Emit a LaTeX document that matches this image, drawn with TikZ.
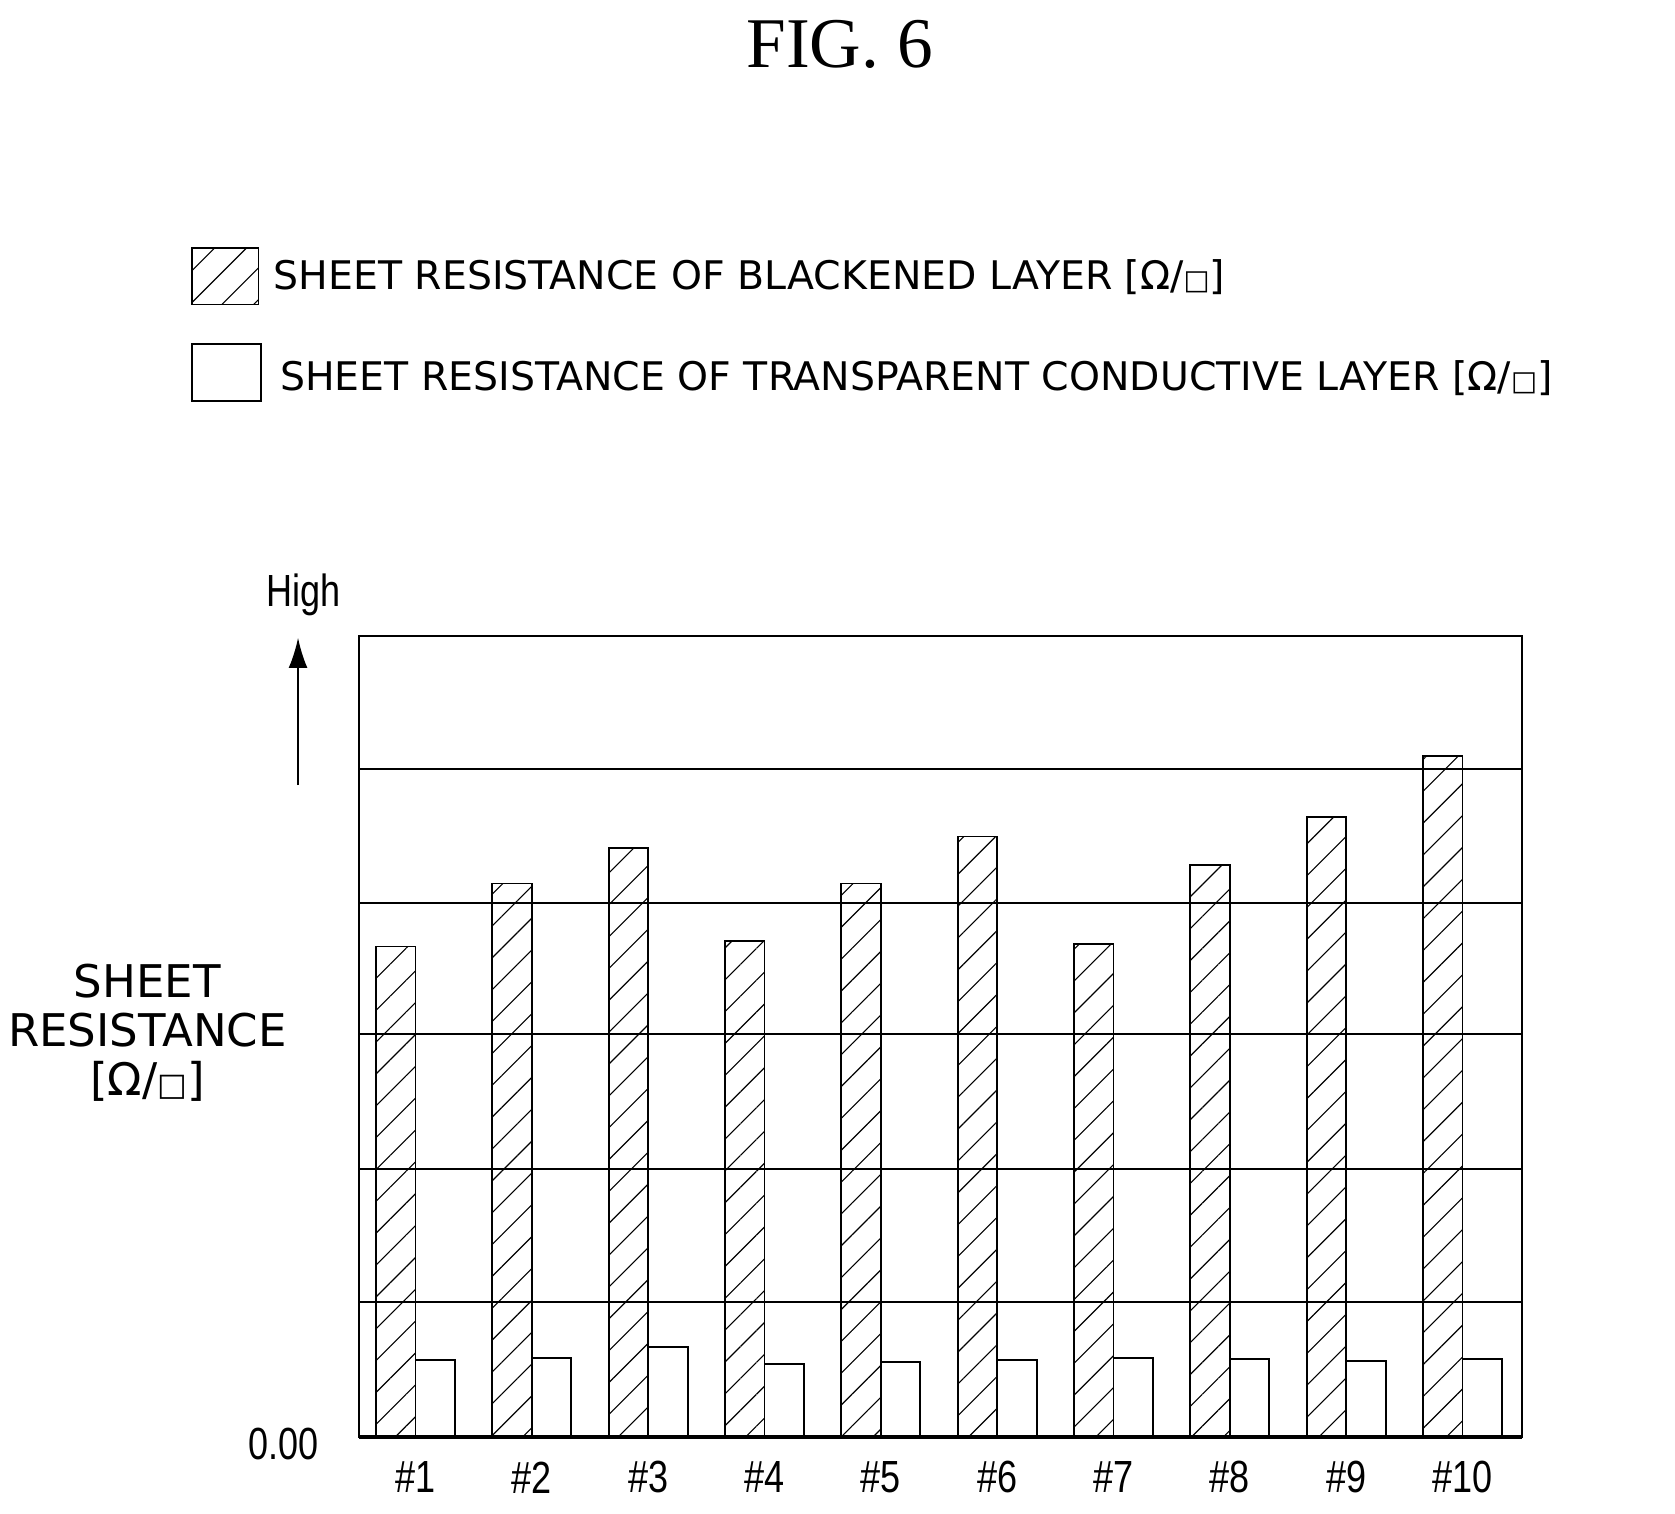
\documentclass[tikz,border=0pt]{standalone}
\usepackage{fontspec}
\setmainfont{Liberation Serif}
\newfontfamily\legfont{DejaVu Sans}
\newfontfamily\axfont{Liberation Sans}
\usetikzlibrary{patterns.meta,arrows.meta}
\tikzset{
  hatch/.style={draw, line width=1pt, pattern={Lines[angle=45,distance=12pt,line width=0.6pt]}},
  plain/.style={draw, line width=1pt, fill=white},
  leg/.style={anchor=west, inner sep=0pt, font=\legfont\fontsize{21}{24}\selectfont},
  tick/.style={inner sep=0pt, font=\axfont\fontsize{24}{28}\selectfont, xscale=0.8}
}
\newcommand{\sq}{{\legfont\scalebox{0.7}{□}}}
\begin{document}
\begin{tikzpicture}[x=0.02cm, y=-0.02cm]
  \useasboundingbox (0,0) rectangle (1568,1417);
  % Titel
  \node[font=\fontsize{38}{42}\selectfont] (fig) at (786,42) {FIG. 6};

  % Legende
  \draw[hatch] (180,232) rectangle (242,285);
  \node[leg] (leg1) at (256,259) {SHEET RESISTANCE OF BLACKENED LAYER [Ω/\sq]};
  \draw[plain] (180,322) rectangle (244,375);
  \node[leg] (leg2) at (262,354) {SHEET RESISTANCE OF TRANSPARENT CONDUCTIVE LAYER [Ω/\sq]};

  % Gitter
  \foreach \y in {720,845,968,1094,1219}
    \draw[line width=1pt] (336,\y) -- (1425,\y);

  % Balken
  \foreach \i/\h/\t in {1/886/1273, 2/827/1271, 3/794/1261, 4/881/1277, 5/827/1275,
                        6/783/1273, 7/884/1271, 8/810/1272, 9/765/1274, 10/708/1272} {
    \pgfmathsetmacro{\xa}{352+108.9*(\i-1)}
    \draw[hatch] (\xa,1345) rectangle (\xa+37,\h);
    \draw[plain] (\xa+37,1345) rectangle (\xa+74,\t);
    \node[tick] (lab\i) at (\xa+37,1383) {\#\i};
  }
  \draw[line width=1pt] (336,595) rectangle (1425,1345);
  \draw[line width=2pt] (336,1345) -- (1425,1345);

  % Achse
  \node[tick] (zero) at (265,1352) {0.00};
  \node[tick] (high) at (284,557) {High};
  \coordinate (foot) at (279,735);
  \draw[line width=1pt, -{Latex[length=16pt,width=10pt]}] (foot) -- (279,597);
  \node[align=center, font=\legfont\fontsize{24}{26}\selectfont] (ylab) at (138,967)
    {SHEET\\RESISTANCE\\{}[Ω/\sq]};
\end{tikzpicture}
\end{document}
